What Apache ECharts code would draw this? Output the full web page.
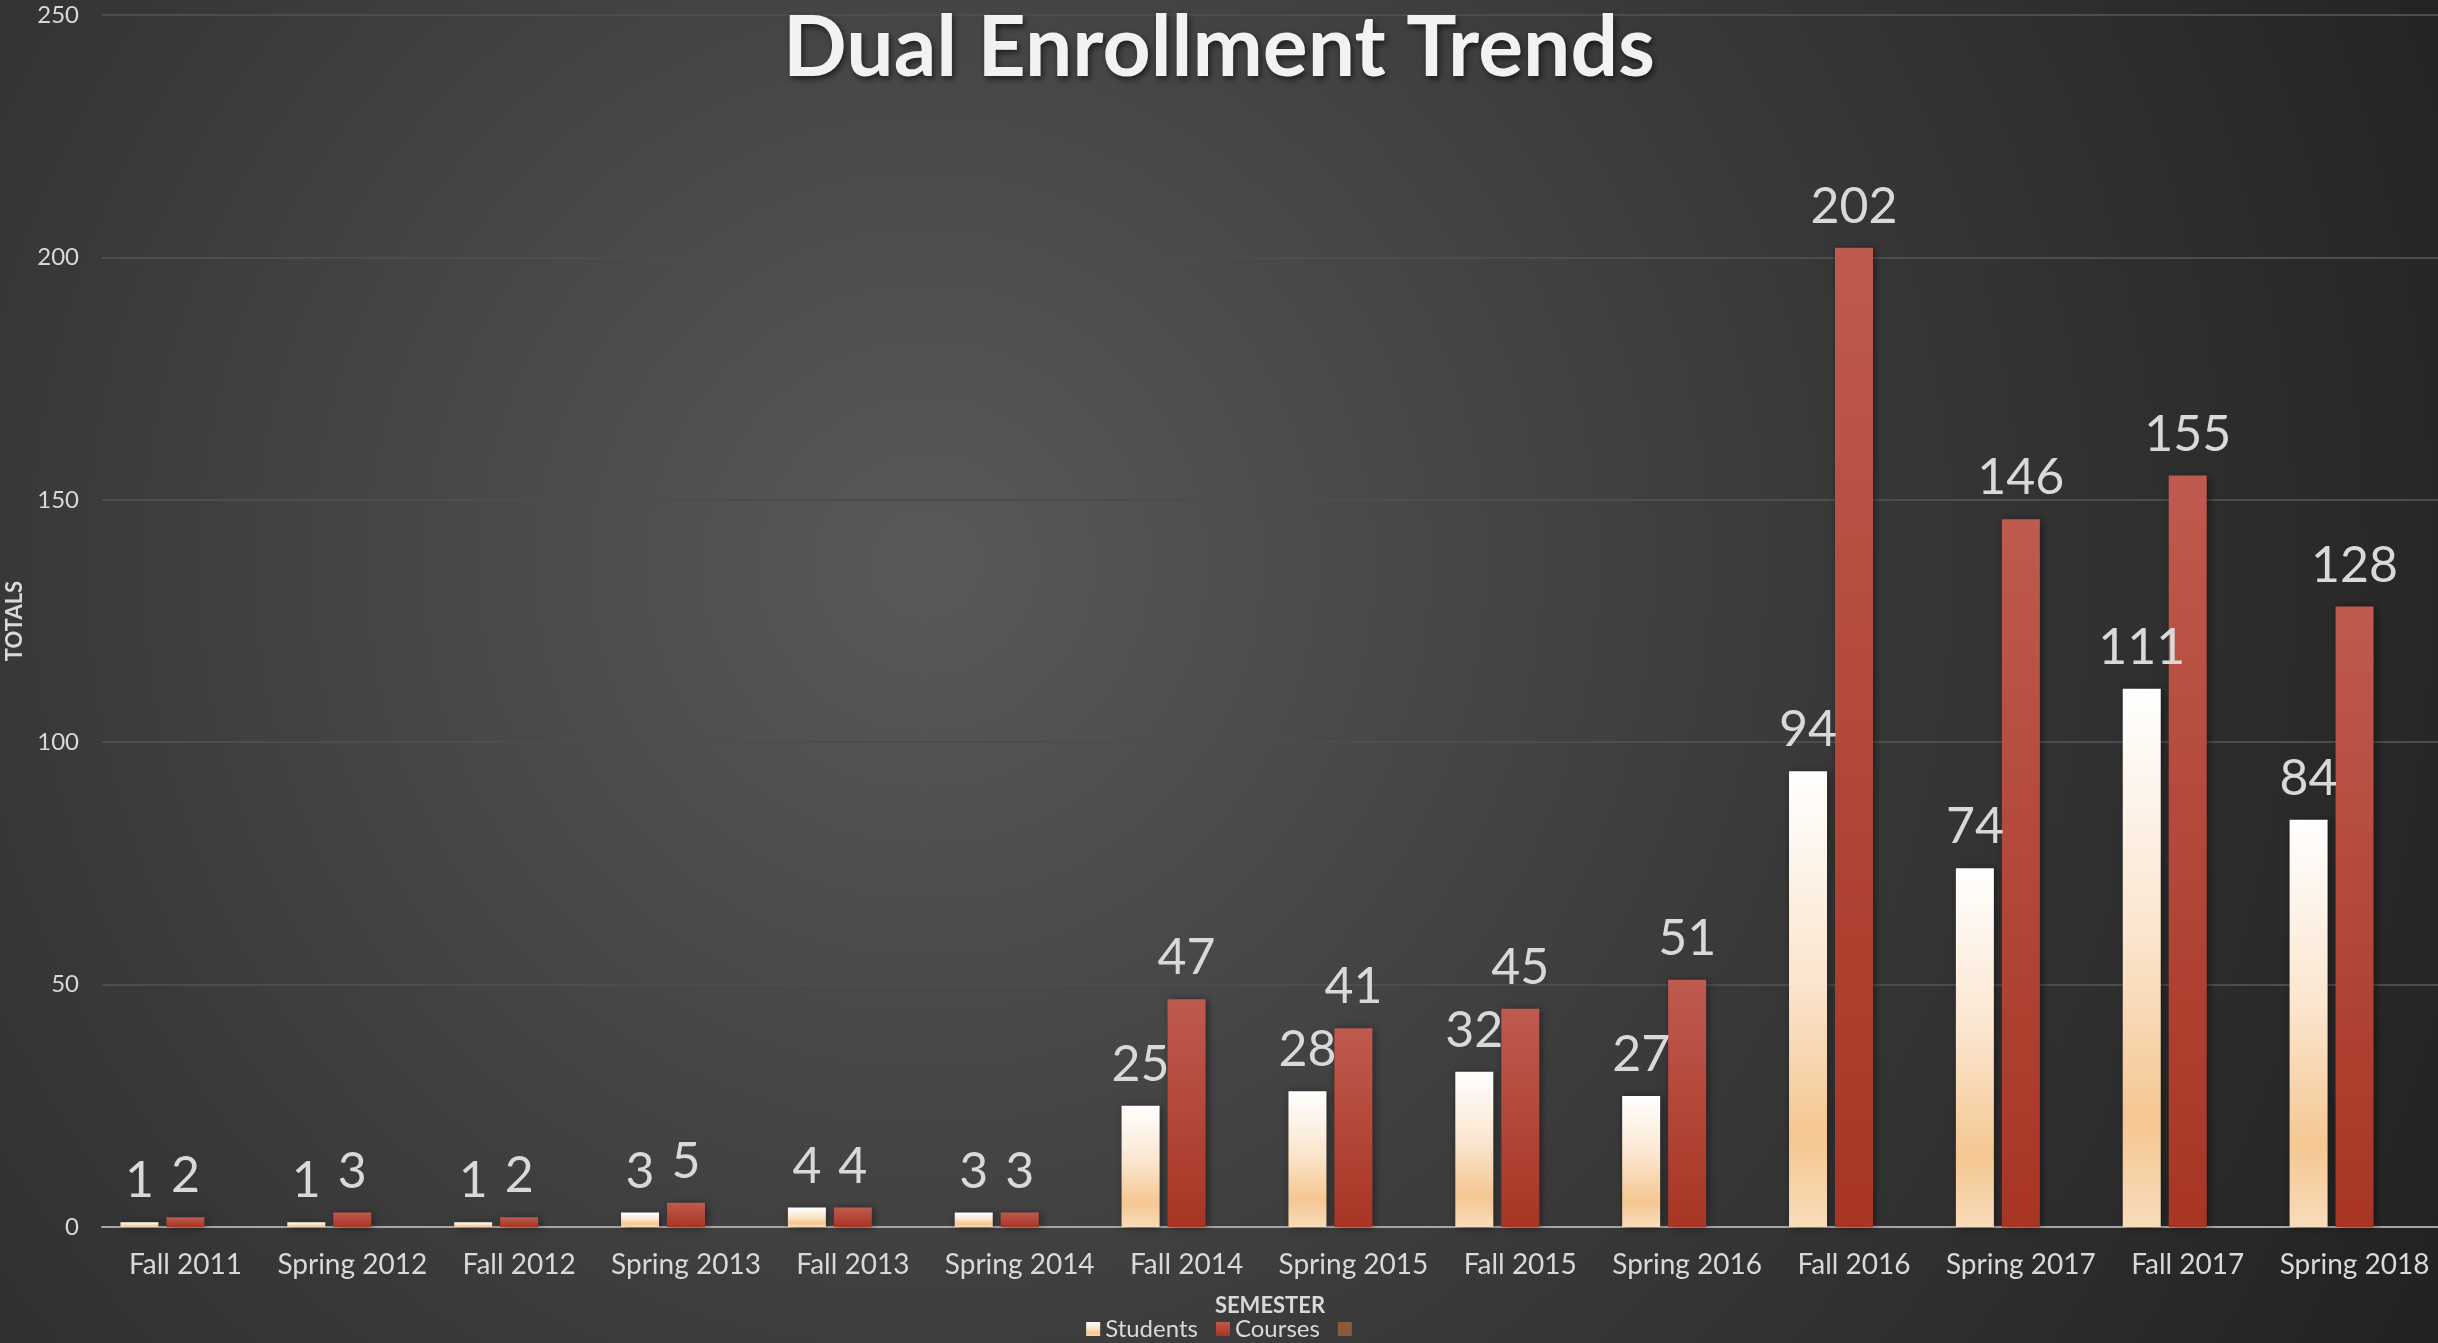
<!DOCTYPE html>
<html>
<head>
<meta charset="utf-8">
<script src="https://cdn.jsdelivr.net/npm/echarts@6.0.0/dist/echarts.min.js"></script>
<style>
html, body { margin: 0; padding: 0; background: #262626; }
#chart { width: 2438px; height: 1343px; }
</style>
</head>
<body>
<div id="chart"></div>
<script>
const semesters = ['Fall 2011', 'Spring 2012', 'Fall 2012', 'Spring 2013', 'Fall 2013', 'Spring 2014',
	'Fall 2014', 'Spring 2015', 'Fall 2015', 'Spring 2016', 'Fall 2016', 'Spring 2017', 'Fall 2017', 'Spring 2018'];
const students = [1, 1, 1, 3, 4, 3, 25, 28, 32, 27, 94, 74, 111, 84];
const courses = [2, 3, 2, 5, 4, 3, 47, 41, 45, 51, 202, 146, 155, 128];
const thirdSeries = [];

const font = 'Lato';
const textColor = '#d9d9d9';

const studentsColor = {
	type: 'linear', x: 0, y: 0, x2: 0, y2: 1,
	colorStops: [
		{offset: 0, color: '#ffffff'},
		{offset: 0.45, color: '#fbe6cf'},
		{offset: 0.8, color: '#f5c792'},
		{offset: 1, color: '#f8dcba'},
	],
};
const coursesColor = {
	type: 'linear', x: 0, y: 0, x2: 0, y2: 1,
	colorStops: [
		{offset: 0, color: '#bf5a4e'},
		{offset: 1, color: '#a83524'},
	],
};

const barLabel = {
	show: true,
	position: 'top',
	distance: 16,
	color: textColor,
	fontFamily: font,
	fontSize: 50,
};
const barShadow = {
	shadowBlur: 8,
	shadowColor: 'rgba(0,0,0,0.45)',
	shadowOffsetX: 2,
	shadowOffsetY: 1,
};

const chart = echarts.init(document.getElementById('chart'));
chart.setOption({
	animation: false,
	backgroundColor: {
		type: 'radial', x: 0.38, y: 0.42, r: 1.25,
		colorStops: [
			{offset: 0, color: '#595959'},
			{offset: 0.55, color: '#383838'},
			{offset: 1, color: '#222222'},
		],
	},
	title: {
		text: 'Dual Enrollment Trends',
		left: 'center',
		top: 2,
		textStyle: {
			color: '#f2f2f2',
			fontFamily: font,
			fontWeight: 'bold',
			fontSize: 84,
			textShadowColor: 'rgba(0,0,0,0.6)',
			textShadowBlur: 6,
			textShadowOffsetX: 2,
			textShadowOffsetY: 3,
		},
	},
	legend: {
		bottom: -3,
		left: 'center',
		icon: 'rect',
		itemWidth: 14,
		itemHeight: 14,
		itemGap: 18,
		formatter: (name) => name === 'Series3' ? '' : name,
		textStyle: {color: textColor, fontFamily: font, fontSize: 24},
		data: ['Students', 'Courses', 'Series3'],
	},
	grid: {
		left: 102,
		right: 0,
		top: 15,
		bottom: 116,
		outerBoundsMode: 'none',
	},
	xAxis: {
		type: 'category',
		data: semesters,
		name: 'SEMESTER',
		nameLocation: 'middle',
		nameGap: 68,
		nameTextStyle: {color: textColor, fontFamily: font, fontWeight: 'bold', fontSize: 22},
		axisLine: {lineStyle: {color: '#a6a6a6', width: 2}},
		axisTick: {show: false},
		axisLabel: {color: textColor, fontFamily: font, fontSize: 28, margin: 24, interval: 0},
	},
	yAxis: {
		type: 'value',
		min: 0,
		max: 250,
		interval: 50,
		name: 'TOTALS',
		nameLocation: 'middle',
		nameGap: 74,
		nameTextStyle: {color: textColor, fontFamily: font, fontWeight: 'bold', fontSize: 22},
		axisLabel: {color: textColor, fontFamily: font, fontSize: 24, margin: 23},
		splitLine: {lineStyle: {color: '#4d4d4d', width: 2}},
	},
	series: [
		{
			name: 'Students',
			type: 'bar',
			data: students,
			barWidth: 38,
			barGap: '21%',
			itemStyle: {color: studentsColor, ...barShadow},
			label: barLabel,
		},
		{
			name: 'Courses',
			type: 'bar',
			data: courses,
			barWidth: 38,
			barGap: '21%',
			itemStyle: {color: coursesColor, ...barShadow},
			label: barLabel,
		},
		{
			name: 'Series3',
			type: 'bar',
			data: thirdSeries,
			barWidth: 38,
			barGap: '21%',
			itemStyle: {color: '#8a5a3d'},
		},
	],
});
</script>
</body>
</html>
